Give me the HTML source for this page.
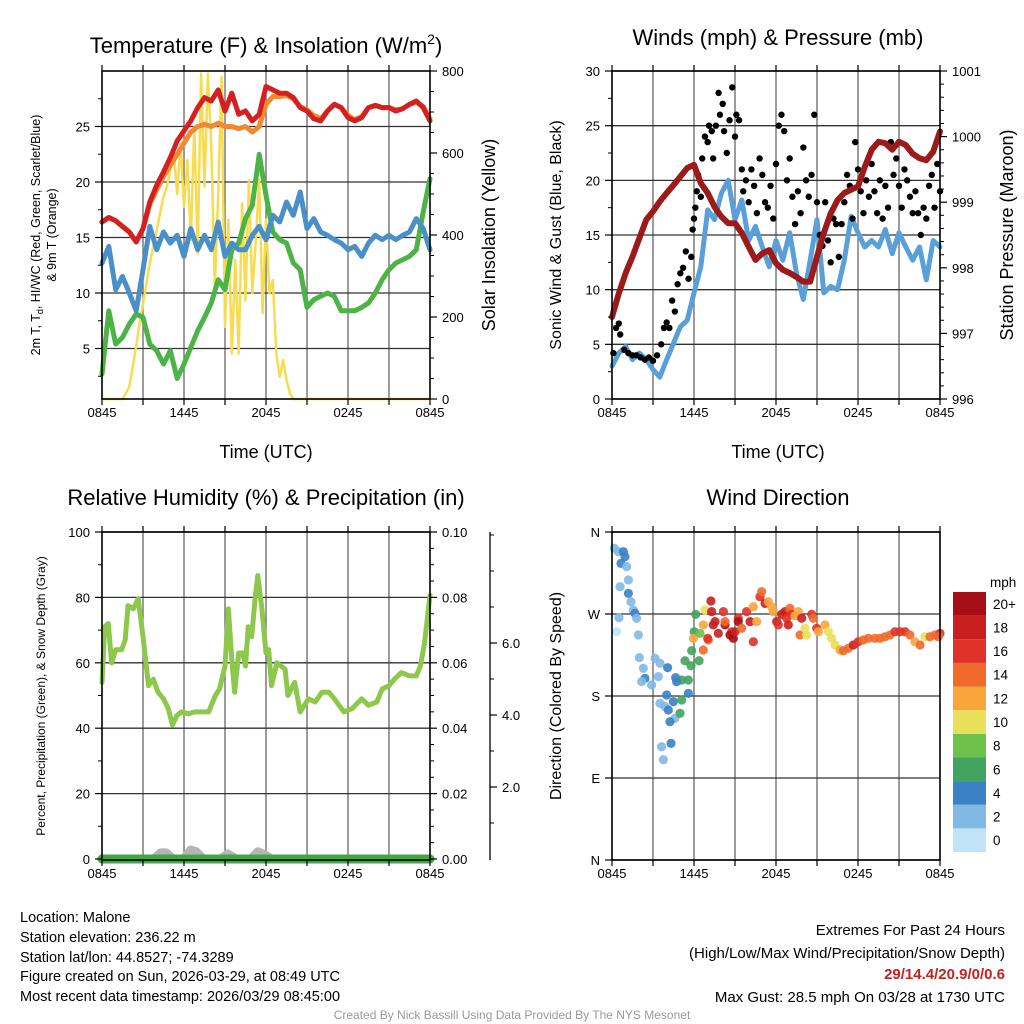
<!DOCTYPE html>
<html><head><meta charset="utf-8"><style>
html,body{margin:0;padding:0;background:#fff;}
svg{display:block;font-family:"Liberation Sans",sans-serif;}
</style></head><body>
<svg id="chart" width="1024" height="1024" viewBox="0 0 1024 1024" xmlns="http://www.w3.org/2000/svg">
<rect width="1024" height="1024" fill="#fff"/>
<g id="bg"></g>
<g id="marks"></g>
<g id="fg"></g>
<text x="266" y="53" font-size="22" text-anchor="middle">Temperature (F) &amp; Insolation (W/m<tspan font-size="14" dy="-9">2</tspan><tspan dy="9">)</tspan></text>
<text x="778" y="45" font-size="22" text-anchor="middle">Winds (mph) &amp; Pressure (mb)</text>
<text x="266" y="505" font-size="22" text-anchor="middle">Relative Humidity (%) &amp; Precipitation (in)</text>
<text x="778" y="505" font-size="22" text-anchor="middle">Wind Direction</text>
<text x="266" y="458" font-size="18" text-anchor="middle">Time (UTC)</text>
<text x="778" y="458" font-size="18" text-anchor="middle">Time (UTC)</text>
<text transform="translate(40,235) rotate(-90)" font-size="12.5" text-anchor="middle">2m T, T<tspan font-size="9" dy="3">d</tspan><tspan dy="-3">, HI/WC (Red, Green, Scarlet/Blue)</tspan></text>
<text transform="translate(56,235) rotate(-90)" font-size="12.5" text-anchor="middle">&amp; 9m T (Orange)</text>
<text transform="translate(495,235) rotate(-90)" font-size="18" text-anchor="middle">Solar Insolation (Yellow)</text>
<text transform="translate(561,235) rotate(-90)" font-size="16" text-anchor="middle">Sonic Wind &amp; Gust (Blue, Black)</text>
<text transform="translate(1013,235) rotate(-90)" font-size="18" text-anchor="middle">Station Pressure (Maroon)</text>
<text transform="translate(45,696) rotate(-90)" font-size="12" text-anchor="middle">Percent, Precipitation (Green), &amp; Snow Depth (Gray)</text>
<text transform="translate(561,696) rotate(-90)" font-size="16" text-anchor="middle">Direction (Colored By Speed)</text>
<g font-size="14.5">
<text x="20" y="922">Location: Malone</text>
<text x="20" y="942">Station elevation: 236.22 m</text>
<text x="20" y="962">Station lat/lon: 44.8527; -74.3289</text>
<text x="20" y="981">Figure created on Sun, 2026-03-29, at 08:49 UTC</text>
<text x="20" y="1001">Most recent data timestamp: 2026/03/29 08:45:00</text>
</g>
<g font-size="15" text-anchor="end">
<text x="1005" y="935">Extremes For Past 24 Hours</text>
<text x="1005" y="958">(High/Low/Max Wind/Precipitation/Snow Depth)</text>
<text x="1005" y="979" fill="#c8201e" font-weight="bold">29/14.4/20.9/0/0.6</text>
<text x="1005" y="1002">Max Gust: 28.5 mph On 03/28 at 1730 UTC</text>
</g>
<text x="512" y="1019" font-size="12" fill="#999" text-anchor="middle">Created By Nick Bassill Using Data Provided By The NYS Mesonet</text>
</svg>
<script>
// ---------- data ----------
const xTickLabels = ["0845","1445","2045","0245","0845"];
const tempTicks = [5,10,15,20,25];
const solarTicks = [0,200,400,600,800];
const windTicks = [0,5,10,15,20,25,30];
const pressTicks = [996,997,998,999,1000,1001];
const rhTicks = [0,20,40,60,80,100];
const precipTicks = ["0.00","0.02","0.04","0.06","0.08","0.10"];
const snowTicks = ["2.0","4.0","6.0"];
const dirTicks = ["N","E","S","W","N"];
const cbLabels = ["0","2","4","6","8","10","12","14","16","18","20+"];
const cbColors = ["#bfe4f8","#7fb9e4","#3a82c4","#41a35d","#6cc24a","#e8e05a","#f9a53e","#f06a2c","#e03228","#c8201e","#a50f15"];

const temp2m = [16.4,16.8,16.5,16.0,15.5,14.6,15.8,18.2,19.7,20.9,22.2,23.7,24.6,25.5,26.7,27.6,27.3,28.3,26.4,28,26.1,26.4,25.5,26.1,28.6,28.3,28,28,27.6,26.7,26.4,25.7,25.5,26.4,27,26.7,25.8,25.5,25.8,26.7,26.9,26.7,26.7,26.4,26.6,27,27.3,26.7,25.5];
const temp9m = [16.4,16.8,16.5,16.0,15.5,14.6,15.8,18.0,19.3,20.5,21.5,22.5,23.5,24.5,25,25.2,25,25.3,25,25,24.8,25,24.5,25,27,27.7,27.7,27.8,27.5,26.8,26.5,26,25.7,26.4,27,26.7,26,25.6,25.9,26.7,26.9,26.7,26.7,26.5,26.6,27,27.2,26.8,25.7];
const dewBlue = [12.7,14.2,10.3,11.5,10,8.4,12.1,16,13.9,15.5,14.5,15.2,13.3,15.8,13.9,15.2,13.9,16.4,13.3,14.5,13.9,13.9,15.2,16,14.8,17,16.4,18.2,17,19.1,15.8,16.7,15.5,15.2,14.8,14.5,13.9,14.2,13.3,14.5,15.2,14.8,15.2,14.8,15.2,15.5,16.7,15.8,13.9];
const dewGreen = [2.7,8.4,5.4,6,7.2,8.1,7.8,5.4,4.8,3.6,4.8,2.3,3.6,5.1,6.6,7.8,9.1,11.2,10.3,13.9,14.5,16.7,17.9,22.5,18.8,15.5,14.8,14.5,12.7,12.1,8.7,9.4,9.7,10,9.7,8.4,8.4,8.4,8.7,9.1,10,11.2,12.1,12.7,13,13.3,13.9,17.3,20.3];
const solar = [0,0,0,0,0,0,0,14,30,80,128,185,233,282,331,372,412,453,494,518,559,600,500,623,469,583,388,664,355,794,518,794,615,274,500,786,176,437,111,339,111,477,241,534,258,388,534,209,437,258,290,111,54,95,46,14,0,0,0,0,0,0,0,0,0,0,0,0,0,0,0,0,0,0,0,0,0,0,0,0,0,0,0,0,0,0,0,0,0,0,0,0,0,0,0,0,0];

const sonicWind = [3.0,4.2,4.8,3.6,4.2,3.6,2.7,2.0,3.6,5.1,6.6,7.2,9.7,12.1,17.3,16.4,18.8,20.0,16.4,18.2,14.5,15.8,13.9,12.1,14.5,12.7,15.2,11.5,9.1,12.7,16.4,9.7,10.3,10.0,12.7,16.7,15.2,13.9,14.5,13.9,15.5,13.3,15.2,13.9,12.7,13.9,10.9,14.5,13.9];
const pressure = [997.25,997.61,997.92,998.17,998.45,998.73,998.86,999.01,999.14,999.26,999.39,999.52,999.57,999.29,999.14,998.93,998.78,998.68,998.68,998.53,998.32,998.12,998.22,998.27,998.07,997.97,997.92,997.86,997.79,997.79,998.17,998.53,998.83,999.03,999.14,999.19,999.24,999.54,999.80,999.92,999.90,999.80,999.92,999.87,999.74,999.67,999.64,999.77,1000.08];
const gustT = [0.1,0.3,0.5,0.6,0.9,1.2,1.5,1.8,2.1,2.4,2.7,3.0,3.3,3.6,3.8,4.0,4.2,4.4,4.6,4.8,5.0,5.2,5.4,5.6,5.8,5.9,6.0,6.1,6.2,6.3,6.5,6.6,6.8,7.0,7.1,7.3,7.4,7.6,7.8,7.9,8.1,8.2,8.4,8.6,8.8,9.0,9.1,9.3,9.5,9.6,9.8,10.0,10.2,10.4,10.6,10.8,11.0,11.2,11.4,11.6,11.8,12.0,12.2,12.4,12.6,12.8,13.0,13.2,13.4,13.6,13.8,14.0,14.2,14.4,14.6,14.8,15.0,15.2,15.4,15.6,15.8,16.0,16.2,16.4,16.6,16.8,17.0,17.2,17.4,17.6,17.8,18.0,18.2,18.4,18.6,18.8,19.0,19.2,19.4,19.6,19.8,20.0,20.2,20.4,20.6,20.8,21.0,21.2,21.4,21.6,21.8,22.0,22.2,22.4,22.6,22.8,23.0,23.2,23.4,23.6,23.8,24.0];
const gustV = [4.2,6.5,6.9,5.9,4.5,4.2,4,4,3.8,3.6,3.8,3.5,4.0,5.0,6.5,7.0,6.5,9.0,8.0,10.5,11.5,12.0,13.5,11.0,13.0,15.5,16.5,17.5,19.0,20.5,18.5,22.0,24.0,23.5,25.0,24.5,22.0,25.0,28.0,26.0,27.0,24.5,22.5,25.5,28.5,24.0,26.0,25.5,21.0,19.0,20.0,18.0,21.0,19.5,17.0,22.0,20.5,18.0,17.5,19.5,16.5,21.5,25.0,26.0,24.5,20.0,22.0,18.5,16.0,19.0,17.0,23.0,20.0,18.5,20.5,26.0,18.0,15.0,14.0,18.0,14.5,12.5,16.5,16.0,13.0,16.0,18.0,20.5,19.5,16.5,23.5,21.0,19.0,17.0,20.0,18.5,21.5,19.0,17.0,20.0,16.5,19.5,17.5,23.5,20.5,22.0,19.5,17.5,21.0,20.0,18.5,17.0,19.0,17.0,15.0,17.5,16.5,19.5,20.5,17.5,21.5,19.0];

const rhT = [0,0.2,0.46,0.7,1,1.44,1.7,1.9,2.3,2.65,3,3.4,3.75,4.1,4.5,4.85,5.15,5.5,5.8,6.3,6.8,7.3,7.8,8.3,8.6,9,9.25,9.5,9.7,10,10.3,10.5,10.7,10.95,11.2,11.4,11.7,12,12.2,12.4,12.8,13.1,13.4,13.6,14.1,14.5,15.1,15.6,16.1,16.6,17,17.7,18.3,19,19.5,20.1,20.5,21,21.4,21.9,22.5,23,23.3,23.6,24];
const rhV = [54,71,72,60,64,64,67,77.5,76.5,79.6,68,53,55,51,49,46,41,44,45,44.4,45,45,45,50,52,59,76.5,61,51,63,63,59,71,68,79.6,86.7,76.5,63,64,53,60,59,58,50,54,45,49,48,51,51,49,45,46,49,47,48,52,53,55,57,56,56,59,66,80.6];
const precip = [0,0,0,0,0,0,0,0,0,0,0,0,0,0,0,0,0,0,0,0,0,0,0,0,0];
const snowT = [0,3.8,4.3,4.7,5.2,6.0,6.5,6.9,7.4,8.7,9.2,9.8,10.9,11.4,11.9,12.4,24];
const snowV = [0,0,0.17,0.17,0,0,0.25,0.2,0,0,0.14,0,0,0.2,0.12,0,0];

const dirT = [0.17,0.46,0.83,0.95,0.66,1.07,0.59,1.2,1.2,1.39,1.56,1.68,1.8,0.51,0.34,1.93,2.0,2.29,2.41,2.17,2.9,3.15,3.51,3.39,4.07,4.66,5.1,5.59,4.73,3.51,3.88,4.0,4.49,4.12,4.61,4.98,4.24,3.63,4.32,3.76,5.34,5.83,5.78,6.37,5.1,5.59,6.02,5.95,6.12,6.8,6.68,6.44,7.05,6.68,7.0,7.24,7.29,7.54,7.41,7.78,8.15,8.27,8.27,8.76,8.88,8.63,9.0,9.24,9.24,9.49,9.85,10.1,10.34,10.59,10.34,10.83,10.95,11.2,11.44,11.68,11.8,12.05,12.17,12.41,12.66,12.78,12.9,13.02,13.15,13.39,13.63,13.88,13.76,14.12,14.24,14.61,14.73,14.98,15.1,15.59,15.83,16.07,16.32,16.68,16.93,17.29,17.66,18.02,18.39,18.76,19.24,19.61,19.98,20.34,20.71,21.07,21.44,21.8,22.17,22.54,22.9,23.27,23.63,24,23.88];
const dirD = [342.2,338.4,338.4,333,325.6,322,300,307.3,292.7,283.5,274.4,270.8,265.3,266,250.6,247,222.1,210.4,199.4,195.8,192.1,221.4,215.9,201.3,211.1,200.2,197.6,197.6,195.8,172,168.3,181.1,173.8,164.6,155.5,161,151.8,124.3,128,110,218.7,229.7,213.2,218.7,175.6,182.9,250.6,243.3,269.6,274.4,258,248.8,241.5,230.5,243.3,284.3,272.6,261.6,258,248.8,272.6,258,261.6,250.6,243.3,247,250.6,265.3,261.6,254.3,272.6,261.6,278,261.6,239.6,289,294.5,281.6,283.5,278,272.6,261.6,258,269.6,272.6,265.3,258,276.2,269.6,267.9,272.6,265.3,247,254.3,247,269.6,265.3,254.3,250.6,258,250.6,243.3,236,230.5,229.7,232.3,236,239.6,241.5,243.3,243.3,243.3,245.1,247,250.6,250.6,250.6,247,239.6,236,245.1,245.1,247,248.8,245.1];
const dirS = [2,2,4,4,4,2,2,2,4,2,2,4,2,2,1,2,2,2,4,2,2,2,2,2,4,4,6,6,4,2,2,4,4,4,2,6,4,2,4,2,6,6,6,7,6,4,7,12,7,10,12,8,14,14,16,18,18,18,18,18,16,20,14,16,20,20,18,16,20,14,16,18,12,12,16,16,14,18,12,12,12,18,16,18,18,16,18,14,16,12,12,18,14,10,10,16,14,16,12,12,10,10,10,12,14,14,18,16,14,14,14,14,14,14,16,16,16,14,12,14,10,14,14,16,14];

// ---------- helpers ----------
const NS = "http://www.w3.org/2000/svg";
const bg = document.getElementById("bg"), marks = document.getElementById("marks"), fg = document.getElementById("fg");
function mk(parent, tag, attrs, text){
  const e = document.createElementNS(NS, tag);
  for (const k in attrs) e.setAttribute(k, attrs[k]);
  if (text !== undefined) e.textContent = text;
  parent.appendChild(e);
  return e;
}
const W = 328;
function xAt(x0, t){ return x0 + t * W / 24; }
function range(n, step, start){ const a=[]; for(let i=0;i<n;i++) a.push(start + i*step); return a; }

function panelBase(x0, y0, name){
  for (let i = 1; i < 8; i++){
    const gx = x0 + i * W / 8;
    const g = mk(bg, "line", {x1:gx, x2:gx, y1:y0, y2:y0+W, stroke:"#666", "stroke-width":1.3});
    
    
  }
  for (let i = 0; i <= 8; i++){
    const gx = x0 + i * W / 8;
    const tk = mk(fg, "line", {x1:gx, x2:gx, y1:y0+W, y2:y0+W+6, stroke:"#000", "stroke-width":1.2});
    
    
    const tk2 = mk(fg, "line", {x1:gx, x2:gx, y1:y0, y2:y0-6, stroke:"#000", "stroke-width":1.2});
    
    
  }
  xTickLabels.forEach((lb, i) => {
    const t = mk(fg, "text", {x:x0 + i*W/4, y:y0+W+18, "font-size":13, "text-anchor":"middle"}, lb);
    
    
  });
  const fr = mk(fg, "rect", {x:x0, y:y0, width:W, height:W, fill:"none", stroke:"#000", "stroke-width":1.6});
  
  
}
function yAxis(x, side, ticks, labels, yf, minors, name, grid, x0){
  ticks.forEach((v, i) => {
    const y = yf(v);
    const tk = mk(fg, "line", {x1:x, x2:x + (side<0?-7:7), y1:y, y2:y, stroke:"#000", "stroke-width":1.2});
    
    
    const tx = mk(fg, "text", {x:x + (side<0?-12:12), y:y+5, "font-size":13, "text-anchor": side<0?"end":"start"}, labels[i]);
    
    
    if (grid){
      const g = mk(bg, "line", {x1:x0, x2:x0+W, y1:y, y2:y, stroke:"#333", "stroke-width":1.3});
      
      
    }
  });
  minors.forEach(v => {
    const y = yf(v);
    const tk = mk(fg, "line", {x1:x, x2:x + (side<0?-4:4), y1:y, y2:y, stroke:"#000", "stroke-width":1});
    
    
  });
}
function pathLine(xs, ys, color, w, name){
  let d = "";
  xs.forEach((x, i) => { d += (i ? "L" : "M") + x.toFixed(1) + "," + ys[i].toFixed(1); });
  const p = mk(marks, "path", {d:d, fill:"none", stroke:color, "stroke-width":w, "stroke-linejoin":"round", "stroke-linecap":"round"});
  
  
  return p;
}

// ---------- panel 1: temperature ----------
const P1x = 102, P1y = 71;
const yT = v => 404 - v * 11.1;
const yS = w => 399 - w * 0.41;
panelBase(P1x, P1y, "temp-panel");
yAxis(P1x, -1, tempTicks, tempTicks.map(String), yT, range(12, 2.5, 2.5).filter(v => v%5 && yT(v) > P1y), "temp-y", true, P1x);
yAxis(P1x+W, 1, solarTicks, solarTicks.map(String), yS, range(16, 50, 0).filter(v => v%200), "solar-y", false, P1x);
const t05 = temp2m.map((_, i) => i * 0.5);
pathLine(solar.map((_, i) => xAt(P1x, i*0.25)), solar.map(yS), "#f7dc52", 2.5, "solar-insolation-line");
pathLine(t05.map(t => xAt(P1x, t)), dewGreen.map(yT), "#4cb447", 5, "dewpoint-green-line");
pathLine(t05.map(t => xAt(P1x, t)), dewBlue.map(yT), "#4a90c8", 5, "windchill-blue-line");
pathLine(t05.map(t => xAt(P1x, t)), temp9m.map(yT), "#f08a30", 5, "temp-9m-orange-line");
pathLine(t05.map(t => xAt(P1x, t)), temp2m.map(yT), "#d42020", 5, "temp-2m-red-line");

// ---------- panel 2: winds ----------
const P2x = 612, P2y = 71;
const yW = v => 399 - v * 10.933;
const yP = p => 399 - (p - 996) * 65.6;
panelBase(P2x, P2y, "winds-panel");
yAxis(P2x, -1, windTicks, windTicks.map(String), yW, range(6, 5, 2.5), "wind-y", true, P2x);
yAxis(P2x+W, 1, pressTicks, pressTicks.map(String), yP, range(26, 0.2, 996).filter((v,i) => i%5), "pressure-y", false, P2x);
pathLine(t05.map(t => xAt(P2x, t)), sonicWind.map(yW), "#5aa0d8", 5, "sonic-wind-line");
gustT.forEach((t, i) => {
  const c = mk(marks, "circle", {cx:xAt(P2x, t), cy:yW(gustV[i]), r:3.2, fill:"#000"});
  
  
});
pathLine(t05.map(t => xAt(P2x, t)), pressure.map(yP), "#9b1b1b", 6, "pressure-line");

// ---------- panel 3: RH ----------
const P3x = 102, P3y = 532;
const yRH = v => 859 - v * 3.27;
const ySn = v => 859 - v * 36;
panelBase(P3x, P3y, "rh-panel");
yAxis(P3x, -1, rhTicks, rhTicks.map(String), yRH, range(5, 20, 10), "rh-y", true, P3x);
yAxis(P3x+W, 1, precipTicks.map(Number), precipTicks, v => 859 - v*3270, range(21, 0.005, 0).filter((v,i) => i%4), "precip-y", false, P3x);
const ax = mk(fg, "line", {x1:490, x2:490, y1:532, y2:860, stroke:"#000", "stroke-width":1.3});


yAxis(490, 1, snowTicks.map(Number), snowTicks, ySn, [1,3,5,7,8,9], "snow-y", false, P3x);
pathLine(snowT.map(t => xAt(P3x, t)), snowV.map(ySn), "#b5b5b5", 9, "snow-depth-line");
pathLine(precip.map((_, i) => xAt(P3x, i)), precip.map(v => 859 - v*3270), "#3fa83f", 9, "precipitation-line");
pathLine(rhT.map(t => xAt(P3x, t)), rhV.map(yRH), "#8dc84c", 5, "relative-humidity-line");

// ---------- panel 4: wind direction ----------
const P4x = 612, P4y = 532;
const yD = d => 860 - d * W / 360;
panelBase(P4x, P4y, "direction-panel");
yAxis(P4x, -1, [0,90,180,270,360], dirTicks, yD, [], "direction-y", true, P4x);
dirT.forEach((t, i) => {
  const ci = Math.min(10, Math.floor(dirS[i] / 2));
  const c = mk(marks, "circle", {cx:xAt(P4x, t), cy:yD(dirD[i]), r:4.6, fill:cbColors[ci], "fill-opacity":0.9});
  
  
});
const cbTop = 592, cbH = 260 / cbColors.length;
cbColors.forEach((col, i) => {
  const y = cbTop + (cbColors.length - 1 - i) * cbH;
  const r = mk(fg, "rect", {x:953, y:y, width:33, height:cbH, fill:col});
  
  
  const tx = mk(fg, "text", {x:993, y:y + cbH/2 + 5, "font-size":13.5}, cbLabels[i]);
  
  
});
const mph = mk(fg, "text", {x:990, y:587, "font-size":13.5}, "mph");


</script>
</body></html>
